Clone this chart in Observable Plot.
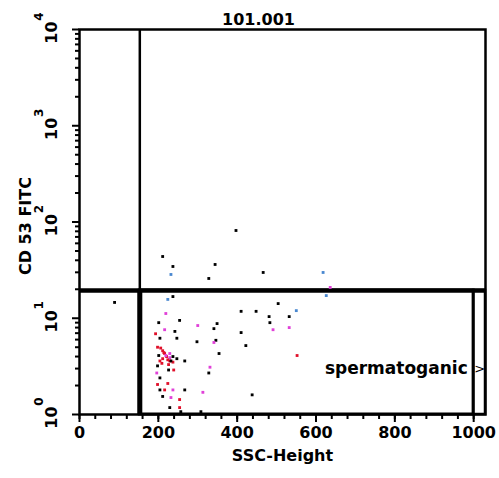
<!DOCTYPE html>
<html><head><meta charset="utf-8">
<script src="https://cdn.jsdelivr.net/npm/d3@7"></script>
<script src="https://cdn.jsdelivr.net/npm/@observablehq/plot@0.6"></script>
<style>body{margin:0;background:#fff;} svg{display:block;}</style>
</head><body><div id="chart"></div>
<script>
const title = "101.001";
const xLabel = "SSC-Height";
const yLabel = "CD 53 FITC";
const gateName = "spermatoganic";
const xTicks = [0, 200, 400, 600, 800, 1000];
const yTicks = [1, 10, 100, 1000, 10000];
const yTickBase = "10";
const yTickExp = ["0", "1", "2", "3", "4"];
const gateX = 153;   // vertical gate (SSC)
const gateY = 19.4;  // horizontal gate (CD53)
const gateXEnd = 1000;
const xMax = 1030;

const ssc = [89,211,237,232,344,328,397,466,618,636,237,224,219,201,254,242,193,300,349,341,
  204,247,298,346,341,198,211,216,221,229,211,204,198,229,237,232,267,247,354,331,
  328,196,226,239,204,198,224,204,216,237,267,211,232,313,254,229,254,308,257,504,
  410,448,481,483,532,550,491,532,410,422,552,626,438,229,237,216,
  206,214,224,219,201,209,226];
const cd53 = [14.6,43.8,34.5,28.5,36.2,25.9,81.6,29.9,29.9,20.9,16.8,15.7,11.2,9.0,9.5,7.3,6.9,8.4,8.8,7.8,
  6.2,6.2,5.7,5.9,5.6,5.0,4.6,4.3,4.0,3.9,3.8,3.6,3.2,3.6,3.5,3.6,3.6,3.8,4.3,3.1,
  2.7,2.7,2.9,2.9,2.4,2.05,2.1,1.8,1.8,1.8,1.8,1.54,1.5,1.7,1.43,1.18,1.18,1.07,1.07,14.2,
  11.8,11.8,10.4,9.0,10.4,12.0,7.6,8.0,7.1,5.2,4.1,17.2,1.6,4.3,4.0,7.6,
  4.9,4.4,3.7,4.1,4.1,3.4,3.3];
const kind = ["k","k","k","b","k","k","k","k","b","m","k","b","m","k","k","k","r","m","k","k",
  "k","k","k","k","m","r","r","r","r","m","r","r","k","r","r","k","k","k","k","m",
  "k","m","k","r","k","r","r","k","r","m","k","k","m","m","r","k","r","k","k","k",
  "k","k","k","k","k","b","m","m","k","k","r","b","k","m","k","m",
  "r","r","r","m","k","r","r"];

const data = ssc.map((x, i) => ({x, y: cd53[i], k: kind[i]}));
const yMinor = [];
for (let e = 0; e < 4; e++) for (let m = 2; m <= 9; m++) yMinor.push(m * 10 ** e);
const xMinor = d3.range(0, 1001, 40);

const font = "DejaVu Sans";
const chart = Plot.plot({
  width: 499, height: 478,
  marginLeft: 79, marginRight: 14, marginTop: 29, marginBottom: 64,
  style: {fontFamily: font, background: "#fff"},
  x: {domain: [0, xMax]},
  y: {type: "log", domain: [1, 10000]},
  color: {domain: ["k","r","m","b"], range: ["#000000","#e0102a","#e040d8","#4a88d0"]},
  marks: [
    Plot.axisX({ticks: xMinor, tickSize: 5, tickFormat: () => "", strokeWidth: 2}),
    Plot.axisX({ticks: xTicks, tickSize: 8, tickPadding: 4, fontSize: 16, fontWeight: "bold", label: null, strokeWidth: 2, tickFormat: d => String(d)}),
    Plot.axisY({ticks: yMinor, tickSize: 4, tickFormat: () => "", strokeWidth: 2, label: null}),
    Plot.axisY({ticks: yTicks, tickSize: 7, tickFormat: () => "", strokeWidth: 2, label: null}),
    Plot.text(yTicks, {y: d => d, frameAnchor: "left", dx: -28, dy: 3, rotate: -90, textAnchor: "middle", text: () => yTickBase, fontSize: 16, fontWeight: "bold"}),
    Plot.text(yTicks, {y: d => d, frameAnchor: "left", dx: -40, dy: -13, rotate: -90, textAnchor: "middle", text: (d, i) => yTickExp[i], fontSize: 12, fontWeight: "bold"}),
    Plot.text([yLabel], {frameAnchor: "left", dx: -54, dy: 4, rotate: -90, textAnchor: "middle", fontSize: 16, fontWeight: "bold"}),
    Plot.text([xLabel], {frameAnchor: "bottom", dy: 46, fontSize: 16, fontWeight: "bold"}),
    Plot.text([title], {frameAnchor: "top", dx: -24, dy: -16, fontSize: 16, fontWeight: "bold"}),
    Plot.frame({stroke: "#000", strokeWidth: 2.5}),
    Plot.ruleX([gateX], {y1: gateY, y2: 10000, strokeWidth: 2.5}),
    Plot.ruleY([gateY], {strokeWidth: 4.5}),
    Plot.rect([{x1: gateX, x2: gateXEnd, y1: 1, y2: gateY}], {x1: "x1", x2: "x2", y1: "y1", y2: "y2", fill: "none", stroke: "#000", strokeWidth: 3}),
    Plot.ruleX([gateX], {y1: 1, y2: gateY, strokeWidth: 5}),
    Plot.rect([{x1: gateXEnd, x2: xMax, y1: 1, y2: gateY}], {x1: "x1", x2: "x2", y1: "y1", y2: "y2", fill: "none", stroke: "#000", strokeWidth: 2.5}),
    Plot.text([">"], {x: (gateXEnd + xMax) / 2, y: 3.0, fontSize: 13}),
    Plot.text([gateName], {x: 985, y: 3.0, textAnchor: "end", fontSize: 17, fontWeight: "bold"}),
    Plot.dot(data, {x: "x", y: "y", fill: "k", symbol: "square", r: 1.6, stroke: null})
  ]
});
document.getElementById("chart").appendChild(chart);
</script>
</body></html>
